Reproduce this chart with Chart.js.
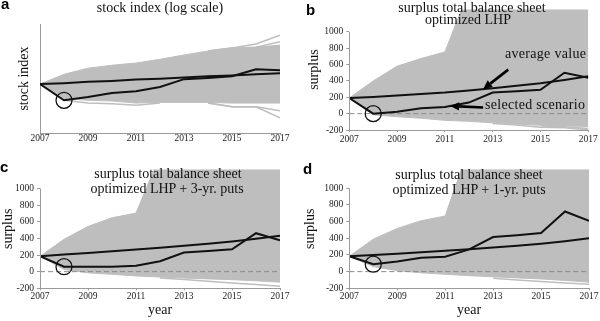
<!DOCTYPE html>
<html><head><meta charset="utf-8">
<script src="https://cdn.jsdelivr.net/npm/chart.js@4.4.1/dist/chart.umd.min.js"></script>
<style>
html,body{margin:0;padding:0;background:#fff;}
#wrap{position:relative;width:600px;height:321px;overflow:hidden;}
canvas.pn{position:absolute;}
.t{position:absolute;font-family:"Liberation Serif","Times New Roman",serif;font-size:14px;color:#111;white-space:nowrap;transform:translate(-50%,-50%);line-height:1;}
.n{position:absolute;font-family:"Liberation Serif","Times New Roman",serif;font-size:14px;color:#111;white-space:nowrap;transform:translate(0,-50%);line-height:1;letter-spacing:0.3px;}
.l{position:absolute;font-family:"Liberation Sans",Arial,sans-serif;font-weight:bold;font-size:15px;color:#000;line-height:1;}
</style></head>
<body>
<div id="wrap">
  <canvas id="ca" class="pn" style="left:0;top:0" width="300" height="160"></canvas>
  <canvas id="cb" class="pn" style="left:300px;top:0" width="300" height="160"></canvas>
  <canvas id="cc" class="pn" style="left:0;top:160px" width="300" height="161"></canvas>
  <canvas id="cd" class="pn" style="left:300px;top:160px" width="300" height="161"></canvas>

  <div class="l" style="left:1px;top:-4px">a</div>
  <div class="l" style="left:306px;top:2px">b</div>
  <div class="l" style="left:0px;top:159px">c</div>
  <div class="l" style="left:303px;top:161px">d</div>

  <div class="t" style="left:160px;top:8px">stock index (log scale)</div>
  <div class="t" style="left:472px;top:8px">surplus total balance sheet</div>
  <div class="t" style="left:468px;top:20px">optimized LHP</div>
  <div class="t" style="left:168px;top:174px">surplus total balance sheet</div>
  <div class="t" style="left:167px;top:189px">optimized LHP + 3-yr. puts</div>
  <div class="t" style="left:469px;top:175px">surplus total balance sheet</div>
  <div class="t" style="left:469px;top:190px">optimized LHP + 1-yr. puts</div>

  <div class="n" style="left:505px;top:54px">average value</div>
  <div class="n" style="left:485px;top:105px">selected scenario</div>
</div>
<script>
// ---------- data ----------
const years = [2007, 2008, 2009, 2010, 2011, 2012, 2013, 2014, 2015, 2016, 2017];
const xTicks = [2007, 2009, 2011, 2013, 2015, 2017];
const surplusTicks = [-200, 0, 200, 400, 600, 800, 1000];

// panel a: stock index (log scale, index 2007 = 100)
const aUpper    = [100, 123, 140, 149, 156, 169, 185, 201, 214, 218, 228];
const aLower    = [100, 74, 71, 70, 67, 68, 68, 68, 67, 67, 67];
const aAverage  = [100, 102, 105, 107, 110, 112, 115, 118, 120, 123, 126];
const aSelected = [100, 71, 76, 83, 86, 94, 111, 114, 118, 137, 134];
const aOutliers = [
  [null, null, null, null, null, null, null, 201, 214, 233, 281],
  [null, null, null, null, null, null, null, 201, 214, 218, 245],
  [null, null, null, null, null, null, null, 67, 62, 62, 57],
  [null, null, null, null, null, null, null, 67, 62, 62, 49],
  [null, 71, 67, 66, 64, 67, null, null, null, null, null]
];

// panel b: surplus, optimized LHP
const bUpper    = [190, 400, 580, 674, 755, 1500, 2500, 2500, 2500, 2500, 2500];
const bLower    = [190, -15, -37, -56, -82, -94, -112, -128, -142, -150, -157];
const bAverage  = [190, 205, 222, 240, 258, 283, 310, 340, 372, 412, 458];
const bSelected = [190, 0, 24, 67, 82, 135, 258, 275, 292, 500, 440];
const bOutliers = [
  [null, null, null, null, null, null, -120, -140, -165, -172, -198],
  [null, null, null, null, null, null, null, null, -150, -160, -182]
];

// panel c: surplus, optimized LHP + 3-yr. puts
const cUpper    = [185, 389, 544, 648, 704, 1400, 2500, 2500, 2500, 2500, 2500];
const cLower    = [185, 27, -14, -32, -51, -64, -77, -87, -96, -110, -126];
const cAverage  = [185, 205, 225, 245, 267, 289, 312, 337, 363, 395, 432];
const cSelected = [185, 60, 58, 60, 70, 126, 230, 248, 270, 463, 378];
const cOutliers = [
  [null, null, null, null, null, -75, -95, -115, -135, -155, -175]
];

// panel d: surplus, optimized LHP + 1-yr. puts
const dUpper    = [185, 389, 519, 611, 667, 1500, 2500, 2500, 2500, 2500, 2500];
const dLower    = [185, 60, 12, -14, -32, -48, -62, -75, -88, -105, -126];
const dAverage  = [185, 200, 215, 232, 250, 270, 290, 312, 336, 365, 400];
const dSelected = [185, 89, 122, 167, 178, 267, 415, 437, 463, 722, 611];
const dOutliers = [
  [null, null, null, null, null, null, -80, -100, -118, -135, -150]
];

// annotation arrows in panel b (data units; tips land on the series)
const bArrows = [
  {fromX: 2013.65, fromY: 538, toX: 2012.6, series: 'average'},
  {fromX: 2012.6, fromY: 76, toX: 2011.22, series: 'selected'}
];

// ---------- helpers ----------
const GRAY = '#bebebe';
const AXIS = '#9a9a9a';
const SERIF = '"Liberation Serif","Times New Roman",serif';
const pts = arr => years.map((x, i) => ({x, y: arr[i]}));
function interp(arr, xv) {
  const i = Math.min(years.length - 2, Math.max(0, Math.floor(xv - years[0])));
  const t = xv - years[i];
  return arr[i] + (arr[i + 1] - arr[i]) * t;
}

const axisLinePlugin = {
  id: 'axisLine',
  afterDraw(chart, args, opts) {
    if (!opts || !opts.on) return;
    const {ctx, scales: {x, y}} = chart;
    ctx.save();
    ctx.strokeStyle = AXIS; ctx.lineWidth = 1;
    const px = Math.round(x.left) + 0.5;
    ctx.beginPath();
    ctx.moveTo(px, y.getPixelForValue(opts.from));
    ctx.lineTo(px, y.getPixelForValue(opts.to));
    ctx.stroke();
    ctx.restore();
  }
};

const arrowPlugin = {
  id: 'arrows',
  afterDatasetsDraw(chart, args, opts) {
    if (!opts || !opts.list) return;
    const {ctx, scales: {x, y}} = chart;
    ctx.save();
    ctx.strokeStyle = '#000'; ctx.fillStyle = '#000'; ctx.lineWidth = 2.6;
    opts.list.forEach(a => {
      const arr = opts.series[a.series];
      const x1 = x.getPixelForValue(a.fromX), y1 = y.getPixelForValue(a.fromY);
      const x2 = x.getPixelForValue(a.toX), y2 = y.getPixelForValue(interp(arr, a.toX));
      const ang = Math.atan2(y2 - y1, x2 - x1);
      const hl = 9, hw = 4.2;
      const bx = x2 - hl * Math.cos(ang), by = y2 - hl * Math.sin(ang);
      ctx.beginPath(); ctx.moveTo(x1, y1); ctx.lineTo(bx, by); ctx.stroke();
      ctx.beginPath();
      ctx.moveTo(x2, y2);
      ctx.lineTo(bx + hw * Math.sin(ang), by - hw * Math.cos(ang));
      ctx.lineTo(bx - hw * Math.sin(ang), by + hw * Math.cos(ang));
      ctx.closePath(); ctx.fill();
    });
    ctx.restore();
  }
};

function makePanel(id, p) {
  const ds = [];
  ds.push({data: pts(p.upper), borderColor: GRAY, backgroundColor: GRAY, borderWidth: 1, fill: '+1', order: 10});
  ds.push({data: pts(p.lower), borderColor: GRAY, borderWidth: 1, fill: false, order: 10});
  p.outliers.forEach(o => ds.push({data: pts(o), borderColor: GRAY, borderWidth: 1.5, fill: false, order: 9, spanGaps: false}));
  if (p.zero) ds.push({data: [{x: years[0], y: 0}, {x: years[years.length - 1], y: 0}], borderColor: '#8a8a8a', borderWidth: 1, borderDash: [5, 3], fill: false, order: 5});
  ds.push({data: pts(p.average), borderColor: '#111', borderWidth: 2, fill: false, order: 3});
  ds.push({data: pts(p.selected), borderColor: '#111', borderWidth: 2, fill: false, order: 2});
  ds.push({data: [{x: years[1], y: p.selected[1]}], showLine: false, pointRadius: 8, pointHoverRadius: 8,
           pointBorderColor: '#111', pointBackgroundColor: 'rgba(0,0,0,0)', pointBorderWidth: 1.3, order: 1});
  ds.forEach(d => { d.tension = 0; if (d.pointRadius === undefined) d.pointRadius = 0; });

  const yScale = p.log ? {
    type: 'logarithmic', min: p.ymin, max: p.ymax,
    ticks: {display: false},
    grid: {display: false, drawTicks: false},
    border: {display: true, color: AXIS, width: 1},
    title: {display: true, text: p.ytitle, font: {family: SERIF, size: 14}, color: '#111', padding: {top: p.ytitlePad, bottom: 0}},
    afterFit(s) { s.width = p.left; s.paddingTop = 0; s.paddingBottom = 0; }
  } : {
    type: 'linear', min: p.ymin, max: p.ymax,
    afterBuildTicks(s) { s.ticks = surplusTicks.map(v => ({value: v})); },
    ticks: {font: {family: SERIF, size: 9.5}, color: '#222', padding: 3, callback: v => String(v)},
    grid: {drawOnChartArea: false, drawTicks: true, tickLength: 3, color: AXIS},
    border: {display: false},
    title: {display: true, text: p.ytitle, font: {family: SERIF, size: 14}, color: '#111', padding: {top: p.ytitlePad, bottom: 0}},
    afterFit(s) { s.width = p.left; s.paddingTop = 0; s.paddingBottom = 0; }
  };

  new Chart(document.getElementById(id), {
    type: 'line',
    data: {datasets: ds},
    options: {
      responsive: false, animation: false, events: [],
      layout: {padding: {left: 0, top: p.top, right: p.right, bottom: 0}},
      plugins: {
        legend: {display: false}, tooltip: {enabled: false},
        axisLine: p.log ? {} : {on: true, from: -200, to: 1000},
        arrows: p.arrows ? {list: p.arrows, series: {average: p.average, selected: p.selected}} : {}
      },
      scales: {
        x: {
          type: 'linear', min: years[0], max: years[years.length - 1],
          afterBuildTicks(s) { s.ticks = xTicks.map(v => ({value: v})); },
          ticks: {font: {family: SERIF, size: 9.5}, color: '#222', padding: p.xpad, maxRotation: 0, autoSkip: false, callback: v => String(v)},
          grid: {drawOnChartArea: false, drawTicks: true, tickLength: 2, color: AXIS},
          border: {display: true, color: AXIS, width: 1},
          title: p.xtitle ? {display: true, text: p.xtitle, font: {family: SERIF, size: 14}, color: '#111', padding: {top: 0, bottom: 2}} : {display: false},
          afterFit(s) { s.height = p.xh; s.paddingLeft = 0; s.paddingRight = 0; }
        },
        y: yScale
      }
    },
    plugins: [axisLinePlugin, arrowPlugin]
  });
}

makePanel('ca', {upper: aUpper, lower: aLower, average: aAverage, selected: aSelected, outliers: aOutliers,
  log: true, ymin: 35.6, ymax: 356, ytitle: 'stock index', ytitlePad: 16, left: 40, right: 20, top: 24, xh: 27, xpad: -2});
makePanel('cb', {upper: bUpper, lower: bLower, average: bAverage, selected: bSelected, outliers: bOutliers, zero: true,
  ymin: -200, ymax: 1276, ytitle: 'surplus', ytitlePad: 6, left: 49.3, right: 11.7, top: 0, xh: 30, xpad: 2, arrows: bArrows});
makePanel('cc', {upper: cUpper, lower: cLower, average: cAverage, selected: cSelected, outliers: cOutliers, zero: true,
  ymin: -200, ymax: 1231, ytitle: 'surplus', ytitlePad: 0, left: 40, right: 20, top: 0, xh: 32.7, xpad: 0, xtitle: 'year'});
makePanel('cd', {upper: dUpper, lower: dLower, average: dAverage, selected: dSelected, outliers: dOutliers, zero: true,
  ymin: -200, ymax: 1228, ytitle: 'surplus', ytitlePad: 2, left: 49.3, right: 11, top: 0, xh: 32.7, xpad: 0, xtitle: 'year'});
</script>
</body></html>
